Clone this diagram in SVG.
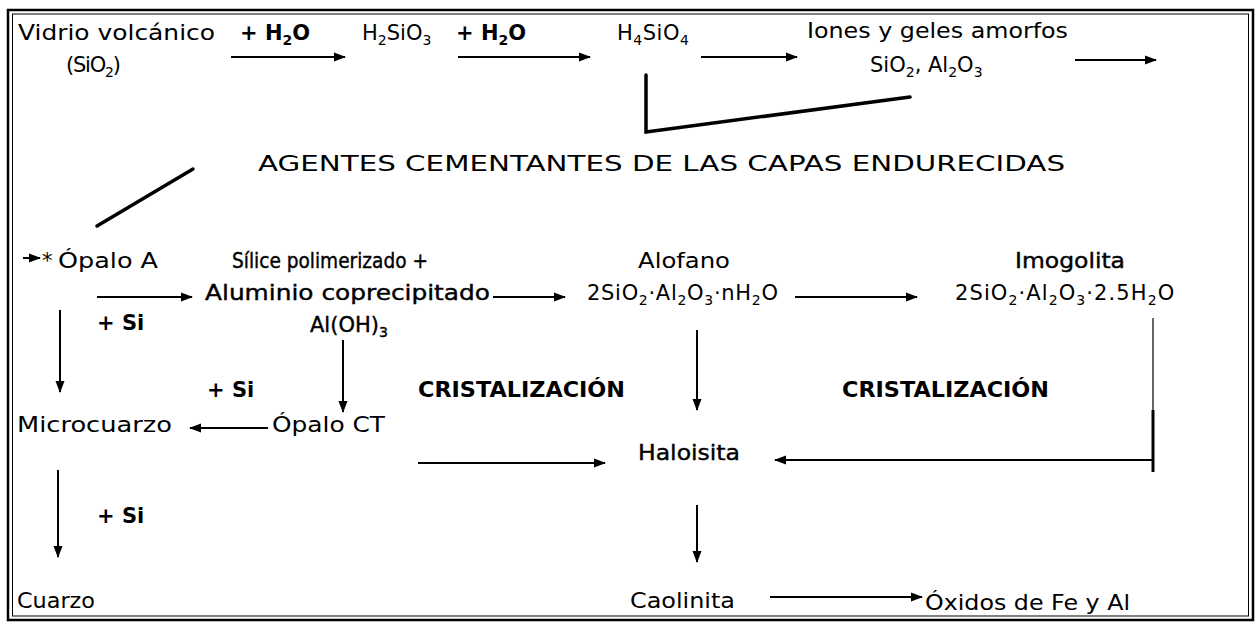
<svg xmlns="http://www.w3.org/2000/svg" width="1259" height="628" viewBox="0 0 1259 628">
<defs>
<style>
.t{font-family:"DejaVu Sans","Noto Sans","Liberation Sans",sans-serif;font-size:21px;fill:#000}
.b{font-weight:700}
.s{stroke:#000;stroke-width:0.4}
.sub{font-size:14px}
.ln{stroke:#000;stroke-width:2;fill:none}
.thk{stroke:#000;stroke-width:3.5;fill:none;stroke-linecap:round}
</style>
<marker id="ah" markerWidth="12" markerHeight="10" refX="11" refY="5" orient="auto" markerUnits="userSpaceOnUse">
<path d="M0,0.5 L12,5 L0,9.5 Z" fill="#000"/>
</marker>
</defs>
<rect width="1259" height="628" fill="#fff"/>
<g id="frame">
<rect x="8" y="10" width="1245" height="610" fill="none" stroke="#000" stroke-width="2.5"/>
<rect x="12.5" y="14" width="1236" height="602" fill="none" stroke="#000" stroke-width="1"/>
</g>
<g id="connectors">
<line class="ln" x1="231" y1="57" x2="345" y2="57" marker-end="url(#ah)"/>
<line class="ln" x1="458" y1="57" x2="590" y2="57" marker-end="url(#ah)"/>
<line class="ln" x1="701" y1="57" x2="797" y2="57" marker-end="url(#ah)"/>
<line class="ln" x1="1075" y1="60" x2="1156" y2="60" marker-end="url(#ah)"/>
<polyline class="thk" points="646,75 646,132 910,97"/>
<line class="thk" x1="97" y1="226" x2="193" y2="169"/>
<line class="ln" x1="23" y1="258" x2="40" y2="258" marker-end="url(#ah)"/>
<line class="ln" x1="97" y1="297" x2="192" y2="297" marker-end="url(#ah)"/>
<line class="ln" x1="60" y1="310" x2="60" y2="392" marker-end="url(#ah)"/>
<line class="ln" x1="493" y1="297" x2="565" y2="297" marker-end="url(#ah)"/>
<line class="ln" x1="795" y1="297" x2="917" y2="297" marker-end="url(#ah)"/>
<line class="ln" x1="343" y1="340" x2="343" y2="412" marker-end="url(#ah)"/>
<line class="ln" x1="697" y1="330" x2="697" y2="410" marker-end="url(#ah)"/>
<line stroke="#000" stroke-width="1.2" x1="1153" y1="318" x2="1153" y2="410"/>
<line stroke="#000" stroke-width="3" x1="1153" y1="410" x2="1153" y2="472"/>
<line class="ln" x1="1153" y1="460" x2="775" y2="460" marker-end="url(#ah)"/>
<line class="ln" x1="268" y1="428" x2="190" y2="428" marker-end="url(#ah)"/>
<line class="ln" x1="418" y1="463" x2="605" y2="463" marker-end="url(#ah)"/>
<line class="ln" x1="58" y1="470" x2="58" y2="557" marker-end="url(#ah)"/>
<line class="ln" x1="697" y1="505" x2="697" y2="562" marker-end="url(#ah)"/>
<line class="ln" x1="770" y1="597" x2="922" y2="597" marker-end="url(#ah)"/>
</g>
<g id="vidrio">
<text class="t" x="18" y="40" textLength="197" lengthAdjust="spacingAndGlyphs">Vidrio volcánico</text>
<text class="t" x="66" y="72" letter-spacing="-1.2">(SiO<tspan class="sub" dy="5">2</tspan><tspan dy="-5">)</tspan></text>
</g>
<g id="h2o-1"><text class="t b" x="240" y="40">+ H<tspan class="sub" dy="5">2</tspan><tspan dy="-5">O</tspan></text></g>
<g id="h2sio3"><text class="t" x="362" y="40">H<tspan class="sub" dy="5">2</tspan><tspan dy="-5">SiO</tspan><tspan class="sub" dy="5">3</tspan></text></g>
<g id="h2o-2"><text class="t b" x="456" y="40">+ H<tspan class="sub" dy="5">2</tspan><tspan dy="-5">O</tspan></text></g>
<g id="h4sio4"><text class="t" x="617" y="40" letter-spacing="0.5">H<tspan class="sub" dy="5">4</tspan><tspan dy="-5">SiO</tspan><tspan class="sub" dy="5">4</tspan></text></g>
<g id="iones">
<text class="t" x="807" y="38" textLength="261" lengthAdjust="spacingAndGlyphs">Iones y geles amorfos</text>
<text class="t" x="870" y="72">SiO<tspan class="sub" dy="5">2</tspan><tspan dy="-5">, Al</tspan><tspan class="sub" dy="5">2</tspan><tspan dy="-5">O</tspan><tspan class="sub" dy="5">3</tspan></text>
</g>
<g id="agentes"><text class="t" x="258" y="171" font-size="23" textLength="807" lengthAdjust="spacingAndGlyphs">AGENTES CEMENTANTES DE LAS CAPAS ENDURECIDAS</text></g>
<g id="opalo-a">
<text class="t" x="42" y="268">*</text>
<text class="t" x="58" y="268" textLength="100" lengthAdjust="spacingAndGlyphs">Ópalo A</text>
</g>
<g id="silice">
<text class="t s" x="232" y="268" font-size="19" textLength="196" lengthAdjust="spacingAndGlyphs">Sílice polimerizado +</text>
<text class="t s" x="205" y="300" textLength="285" lengthAdjust="spacingAndGlyphs">Aluminio coprecipitado</text>
<text class="t s" x="310" y="332">Al(OH)<tspan class="sub" dy="5">3</tspan></text>
</g>
<g id="alofano">
<text class="t" x="638" y="268" textLength="92" lengthAdjust="spacingAndGlyphs">Alofano</text>
<text class="t" x="587" y="300" letter-spacing="0.7">2SiO<tspan class="sub" dy="5">2</tspan><tspan dy="-5">·Al</tspan><tspan class="sub" dy="5">2</tspan><tspan dy="-5">O</tspan><tspan class="sub" dy="5">3</tspan><tspan dy="-5">·nH</tspan><tspan class="sub" dy="5">2</tspan><tspan dy="-5">O</tspan></text>
</g>
<g id="imogolita">
<text class="t s" x="1015" y="268" textLength="110" lengthAdjust="spacingAndGlyphs">Imogolita</text>
<text class="t" x="955" y="300" letter-spacing="1.1">2SiO<tspan class="sub" dy="5">2</tspan><tspan dy="-5">·Al</tspan><tspan class="sub" dy="5">2</tspan><tspan dy="-5">O</tspan><tspan class="sub" dy="5">3</tspan><tspan dy="-5">·2.5H</tspan><tspan class="sub" dy="5">2</tspan><tspan dy="-5">O</tspan></text>
</g>
<g id="si-1"><text class="t b" x="97" y="330">+ Si</text></g>
<g id="si-2"><text class="t b" x="207" y="397">+ Si</text></g>
<g id="si-3"><text class="t b" x="97" y="523">+ Si</text></g>
<g id="crist-1"><text class="t b" x="418" y="397" font-size="20" textLength="207" lengthAdjust="spacingAndGlyphs">CRISTALIZACIÓN</text></g>
<g id="crist-2"><text class="t b" x="842" y="397" font-size="20" textLength="207" lengthAdjust="spacingAndGlyphs">CRISTALIZACIÓN</text></g>
<g id="microcuarzo"><text class="t" x="17" y="432" textLength="155" lengthAdjust="spacingAndGlyphs">Microcuarzo</text></g>
<g id="opalo-ct"><text class="t" x="272" y="432" textLength="113" lengthAdjust="spacingAndGlyphs">Ópalo CT</text></g>
<g id="haloisita"><text class="t s" x="638" y="460" textLength="102" lengthAdjust="spacingAndGlyphs">Haloisita</text></g>
<g id="cuarzo"><text class="t" x="17" y="608" textLength="78" lengthAdjust="spacingAndGlyphs">Cuarzo</text></g>
<g id="caolinita"><text class="t" x="630" y="608" textLength="105" lengthAdjust="spacingAndGlyphs">Caolinita</text></g>
<g id="oxidos"><text class="t" x="925" y="610" textLength="205" lengthAdjust="spacingAndGlyphs">Óxidos de Fe y Al</text></g>
</svg>
